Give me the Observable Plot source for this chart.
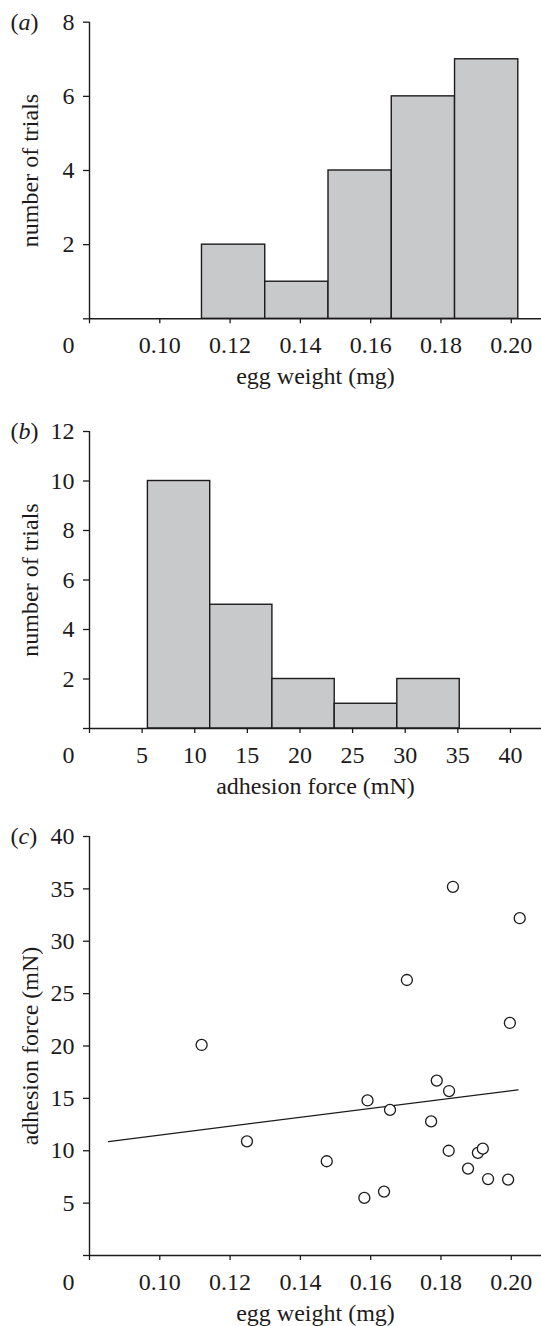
<!DOCTYPE html>
<html>
<head>
<meta charset="utf-8">
<script src="https://cdn.jsdelivr.net/npm/d3@7"></script>
<script src="https://cdn.jsdelivr.net/npm/@observablehq/plot@0.6"></script>
<style>
  html, body { margin: 0; padding: 0; background: #fff; }
  #wrap { width: 541px; }
  #wrap svg { display: block; }
</style>
</head>
<body>
<div id="wrap"></div>
<script>
// ---- data ----
// (a) histogram of egg weight
const aBinEdges = [0.112, 0.130, 0.148, 0.166, 0.184, 0.202];
const aCounts = [2, 1, 4, 6, 7];
const aXTicks = [0.08, 0.10, 0.12, 0.14, 0.16, 0.18, 0.20];
const aYTicks = [0, 2, 4, 6, 8];

// (b) histogram of adhesion force
const bBinEdges = [5.55, 11.47, 17.38, 23.30, 29.25, 35.18];
const bCounts = [10, 5, 2, 1, 2];
const bXTicks = [0, 5, 10, 15, 20, 25, 30, 35, 40];
const bYTicks = [0, 2, 4, 6, 8, 10, 12];

// (c) scatter: egg weight vs adhesion force
const eggWeight = [0.1119, 0.1248, 0.1475, 0.1582, 0.1591, 0.1638, 0.1655, 0.1703, 0.1772, 0.1788,
                   0.1822, 0.1823, 0.1834, 0.1877, 0.1905, 0.1919, 0.1934, 0.1991, 0.1996, 0.2024];
const adhesionForce = [20.1, 10.9, 9.0, 5.5, 14.8, 6.1, 13.9, 26.3, 12.8, 16.7,
                       10.0, 15.7, 35.2, 8.3, 9.8, 10.2, 7.3, 7.25, 22.2, 32.2];
const fitX = [0.0854, 0.2019];
const fitY = [10.88, 15.81];
const cXTicks = [0.08, 0.10, 0.12, 0.14, 0.16, 0.18, 0.20];
const cYTicks = [0, 5, 10, 15, 20, 25, 30, 35, 40];

// ---- styling ----
const ink = "#1d1a1b";
const barFill = "#c8c9cb";
const font = "'Liberation Serif', 'Times New Roman', Times, serif";

function panel({height, marginTop, marginBottom, xDomain, yDomain, xTicks, yTicks, xFmt,
                dataMarks, xLabel, yLabel, tag}) {
  const svg = Plot.plot({
    width: 541, height, marginTop, marginBottom, marginLeft: 89, marginRight: 0,
    style: {fontFamily: font, fontSize: "24px", color: ink, background: "white", overflow: "visible"},
    x: {domain: xDomain},
    y: {domain: yDomain},
    marks: [
      ...dataMarks,
      Plot.ruleY([yDomain[0]], {x1: xDomain[0], x2: xDomain[1], stroke: ink, strokeWidth: 1.4}),
      Plot.ruleX([xDomain[0]], {y1: yDomain[0], y2: yDomain[1], stroke: ink, strokeWidth: 1.4}),
      Plot.axisX({ticks: xTicks, tickFormat: d => (d === xDomain[0] ? "" : xFmt(d)),
                  tickSize: 5, tickPadding: 12, label: null, stroke: ink, strokeWidth: 1.3}),
      Plot.axisY({ticks: yTicks, tickFormat: d => (d === yDomain[0] ? "" : String(d)),
                  tickSize: 6, tickPadding: 9, label: null, stroke: ink, strokeWidth: 1.3}),
      Plot.text(["0"], {frameAnchor: "bottom-left", dx: -15, dy: 17, textAnchor: "end",
                        lineAnchor: "top", text: d => d, fill: ink}),
      Plot.text([xLabel], {frameAnchor: "bottom", dy: 65, textAnchor: "middle", lineAnchor: "bottom",
                           text: d => d, fill: ink}),
      Plot.text([yLabel], {frameAnchor: "left", dx: -52, rotate: -90, textAnchor: "middle",
                           lineAnchor: "bottom", text: d => d, fill: ink}),
      Plot.text([`(${tag})`], {frameAnchor: "top-left", dx: -79, textAnchor: "start",
                               lineAnchor: "middle", text: d => d, fill: ink})
    ]
  });
  // italicise the panel letter
  d3.select(svg).selectAll("text")
    .filter(function () { return this.textContent === `(${tag})`; })
    .each(function () {
      const t = d3.select(this);
      t.text(null);
      t.append("tspan").text("(");
      t.append("tspan").attr("font-style", "italic").text(tag);
      t.append("tspan").text(")");
    });
  return svg;
}

const wrap = document.getElementById("wrap");
const fmt2 = d3.format(".2f");

// (a)
const aIdx = d3.range(aCounts.length);
wrap.appendChild(panel({
  height: 400, marginTop: 21.7, marginBottom: 81.7,
  xDomain: [0.08, 0.2086], yDomain: [0, 8],
  xTicks: aXTicks, yTicks: aYTicks, xFmt: fmt2,
  dataMarks: [
    Plot.rectY(aIdx, {x1: i => aBinEdges[i], x2: i => aBinEdges[i + 1], y1: 0, y2: i => aCounts[i],
                      fill: barFill, stroke: ink, strokeWidth: 1.4})
  ],
  xLabel: "egg weight (mg)", yLabel: "number of trials", tag: "a"
}));

// (b)
const bIdx = d3.range(bCounts.length);
wrap.appendChild(panel({
  height: 400, marginTop: 31, marginBottom: 72,
  xDomain: [0, 42.95], yDomain: [0, 12],
  xTicks: bXTicks, yTicks: bYTicks, xFmt: d => String(d),
  dataMarks: [
    Plot.rectY(bIdx, {x1: i => bBinEdges[i], x2: i => bBinEdges[i + 1], y1: 0, y2: i => bCounts[i],
                      fill: barFill, stroke: ink, strokeWidth: 1.4})
  ],
  xLabel: "adhesion force (mN)", yLabel: "number of trials", tag: "b"
}));

// (c)
const cIdx = d3.range(eggWeight.length);
const fIdx = d3.range(fitX.length);
wrap.appendChild(panel({
  height: 526, marginTop: 36, marginBottom: 71,
  xDomain: [0.08, 0.2086], yDomain: [0, 40],
  xTicks: cXTicks, yTicks: cYTicks, xFmt: fmt2,
  dataMarks: [
    Plot.line(fIdx, {x: i => fitX[i], y: i => fitY[i], stroke: ink, strokeWidth: 1.3}),
    Plot.dot(cIdx, {x: i => eggWeight[i], y: i => adhesionForce[i], r: 5.5,
                    fill: "white", stroke: ink, strokeWidth: 1.3})
  ],
  xLabel: "egg weight (mg)", yLabel: "adhesion force (mN)", tag: "c"
}));
</script>
</body>
</html>
